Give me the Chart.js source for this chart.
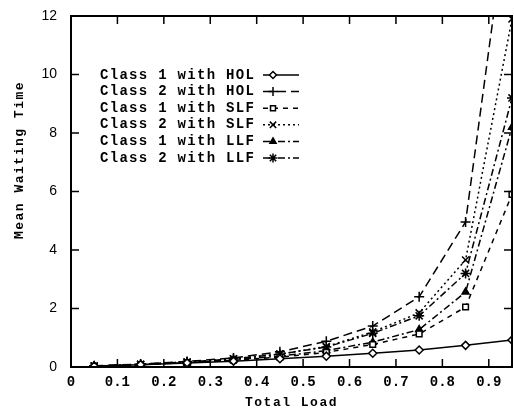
<!DOCTYPE html>
<html>
<head>
<meta charset="utf-8">
<script src="https://cdn.jsdelivr.net/npm/chart.js@4/dist/chart.umd.min.js"></script>
<style>
  html, body { margin: 0; padding: 0; background: #fff; }
  #wrap { width: 514px; height: 410px; }
</style>
</head>
<body>
<div id="wrap"><canvas id="waitChart" width="514" height="410"></canvas></div>
<script>
// Mean waiting time vs total load, HOL / SLF / LLF scheduling

// Data
const load = [0.05, 0.15, 0.25, 0.35, 0.45, 0.55, 0.65, 0.75, 0.85, 0.95];
const class1Hol = [0.03, 0.08, 0.14, 0.20, 0.28, 0.37, 0.47, 0.58, 0.74, 0.92];
const class2Hol = [0.04, 0.10, 0.19, 0.31, 0.52, 0.88, 1.40, 2.40, 4.96, 16.7];
const class1Slf = [0.03, 0.08, 0.15, 0.23, 0.34, 0.50, 0.77, 1.13, 2.05, 5.9];
const class2Slf = [0.03, 0.09, 0.17, 0.28, 0.44, 0.70, 1.20, 1.85, 3.66, 11.9];
const class1Llf = [0.03, 0.08, 0.15, 0.25, 0.37, 0.56, 0.85, 1.28, 2.56, 8.2];
const class2Llf = [0.03, 0.09, 0.17, 0.28, 0.44, 0.68, 1.15, 1.75, 3.20, 9.2];

const seriesNames = ['Class 1 with HOL', 'Class 2 with HOL', 'Class 1 with SLF',
                     'Class 2 with SLF', 'Class 1 with LLF', 'Class 2 with LLF'];
const xTicks = [0, 0.1, 0.2, 0.3, 0.4, 0.5, 0.6, 0.7, 0.8, 0.9];
const yTicks = [0, 2, 4, 6, 8, 10, 12];

const MONO = '"Liberation Mono", "DejaVu Sans Mono", monospace';

// line + marker styles per series
const styles = [
  { dash: [],            point: 'rectRot',  radius: 4, fill: '#fff' },
  { dash: [9, 5],        point: 'cross',    radius: 5, fill: '#000' },
  { dash: [5, 5],        point: 'rect',     radius: 4, fill: '#fff' },
  { dash: [2, 3],        point: 'crossRot', radius: 5, fill: '#000' },
  { dash: [7, 3, 2, 3],  point: 'triangle', radius: 4, fill: '#000' },
  { dash: [7, 3, 2, 3],  point: 'star',     radius: 5, fill: '#000' }
];
const seriesData = [class1Hol, class2Hol, class1Slf, class2Slf, class1Llf, class2Llf];

const datasets = seriesData.map((vals, i) => ({
  label: seriesNames[i],
  data: vals.map((v, j) => ({ x: load[j], y: v })),
  borderColor: '#000',
  borderWidth: 1.5,
  borderDash: styles[i].dash,
  pointStyle: styles[i].point,
  pointRadius: styles[i].radius,
  pointBorderWidth: 1.5,
  pointBorderColor: '#000',
  pointBackgroundColor: styles[i].fill,
  tension: 0,
  clip: 0
}));

// Frame, inward ticks, axis titles and in-plot legend
const framePlugin = {
  id: 'frame',
  afterDraw(chart) {
    const { ctx, chartArea: a, scales } = chart;
    ctx.save();
    ctx.strokeStyle = '#000';
    ctx.lineWidth = 2;
    ctx.setLineDash([]);
    ctx.strokeRect(a.left, a.top, a.right - a.left, a.bottom - a.top);

    ctx.lineWidth = 1.5;
    ctx.beginPath();
    xTicks.forEach(t => {
      if (t === 0) return;
      const px = scales.x.getPixelForValue(t);
      ctx.moveTo(px, a.bottom); ctx.lineTo(px, a.bottom - 8);
      ctx.moveTo(px, a.top);    ctx.lineTo(px, a.top + 8);
    });
    yTicks.forEach(t => {
      if (t === 0 || t === 12) return;
      const py = scales.y.getPixelForValue(t);
      ctx.moveTo(a.left, py);  ctx.lineTo(a.left + 8, py);
      ctx.moveTo(a.right, py); ctx.lineTo(a.right - 8, py);
    });
    ctx.stroke();

    // axis titles
    ctx.fillStyle = '#000';
    ctx.font = 'bold 13px ' + MONO;
    ctx.letterSpacing = '1.5px';
    ctx.textAlign = 'center';
    ctx.textBaseline = 'middle';
    ctx.fillText('Total Load', (a.left + a.right) / 2, 403);
    ctx.save();
    ctx.translate(20, 160);
    ctx.rotate(-Math.PI / 2);
    ctx.fillText('Mean Waiting Time', 0, 0);
    ctx.restore();

    // legend
    ctx.font = 'bold 14px ' + MONO;
    ctx.letterSpacing = '1.3px';
    ctx.textAlign = 'left';
    seriesNames.forEach((name, i) => {
      const y = 75 + i * 16.6;
      ctx.fillStyle = '#000';
      ctx.fillText(name, 100, y);
      ctx.lineWidth = 1.5;
      ctx.setLineDash(styles[i].dash);
      ctx.beginPath();
      ctx.moveTo(263, y); ctx.lineTo(299, y);
      ctx.stroke();
      ctx.setLineDash([]);
      ctx.fillStyle = styles[i].fill;
      Chart.helpers.drawPoint(ctx, {
        pointStyle: styles[i].point, radius: styles[i].radius - 0.5, rotation: 0, borderWidth: 1.5
      }, 273, y);
    });
    ctx.restore();
  }
};

new Chart(document.getElementById('waitChart'), {
  type: 'line',
  data: { datasets },
  options: {
    responsive: false,
    animation: false,
    layout: { autoPadding: false, padding: { top: 16, right: 2, left: 0, bottom: 0 } },
    plugins: { legend: { display: false }, tooltip: { enabled: false } },
    scales: {
      x: {
        type: 'linear',
        min: 0,
        max: 0.95,
        afterBuildTicks: s => { s.ticks = xTicks.map(v => ({ value: v })); },
        afterFit: s => { s.height = 43; s.paddingLeft = 0; s.paddingRight = 0; },
        grid: { display: false, drawTicks: false },
        border: { display: false },
        ticks: {
          color: '#000',
          padding: 7,
          maxRotation: 0,
          font: { family: MONO, size: 14, weight: 'bold' },
          callback: v => String(v)
        }
      },
      y: {
        min: 0,
        max: 12,
        afterBuildTicks: s => { s.ticks = yTicks.map(v => ({ value: v })); },
        afterFit: s => { s.width = 71; s.paddingTop = 0; s.paddingBottom = 0; },
        grid: { display: false, drawTicks: false },
        border: { display: false },
        ticks: {
          color: '#000',
          padding: 14,
          font: { family: '"Liberation Sans", Arial, sans-serif', size: 14 }
        }
      }
    }
  },
  plugins: [framePlugin]
});
</script>
</body>
</html>
